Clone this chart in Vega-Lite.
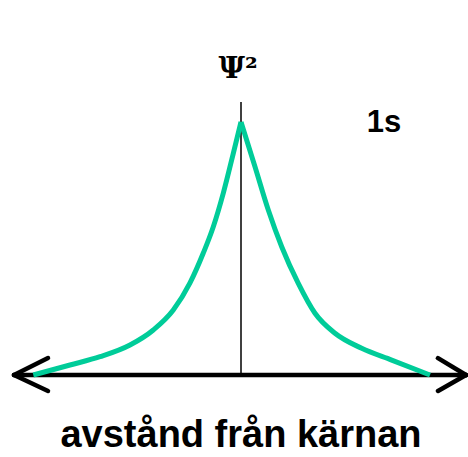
{
  "$schema": "https://vega.github.io/schema/vega-lite/v6.json",
  "width": 468,
  "height": 457,
  "autosize": {"type": "none"},
  "padding": 0,
  "background": "white",
  "config": {"view": {"stroke": null}},
  "datasets": {
    "curve": [
      {"side": "vänster", "r": -10.385, "p": 0},
      {"side": "vänster", "r": -8.55, "p": 0.0395},
      {"side": "vänster", "r": -7.05, "p": 0.0723},
      {"side": "vänster", "r": -5.55, "p": 0.1186},
      {"side": "vänster", "r": -4.385, "p": 0.178},
      {"side": "vänster", "r": -3.385, "p": 0.257},
      {"side": "vänster", "r": -2.55, "p": 0.364},
      {"side": "vänster", "r": -1.885, "p": 0.482},
      {"side": "vänster", "r": -1.385, "p": 0.586},
      {"side": "vänster", "r": -0.885, "p": 0.719},
      {"side": "vänster", "r": -0.385, "p": 0.876},
      {"side": "vänster", "r": 0, "p": 1.0},
      {"side": "höger", "r": 0, "p": 1.0},
      {"side": "höger", "r": 0.7, "p": 0.823},
      {"side": "höger", "r": 1.365, "p": 0.652},
      {"side": "höger", "r": 2.035, "p": 0.507},
      {"side": "höger", "r": 2.865, "p": 0.362},
      {"side": "höger", "r": 3.7, "p": 0.244},
      {"side": "höger", "r": 4.7, "p": 0.165},
      {"side": "höger", "r": 6.035, "p": 0.1055},
      {"side": "höger", "r": 7.535, "p": 0.059},
      {"side": "höger", "r": 9.45, "p": 0}
    ],
    "segments": [
      {"x1": -11.35, "y1": 0, "x2": 11.25, "y2": 0},
      {"x1": -11.35, "y1": 0, "x2": -9.65, "y2": 0.067},
      {"x1": -11.35, "y1": 0, "x2": -9.65, "y2": -0.063},
      {"x1": 11.25, "y1": 0, "x2": 9.85, "y2": 0.067},
      {"x1": 11.25, "y1": 0, "x2": 9.85, "y2": -0.063}
    ]
  },
  "layer": [
    {
      "data": {"values": [{"r": 0, "p0": 0, "p1": 1.079}]},
      "mark": {"type": "rule", "color": "black", "strokeWidth": 1.5},
      "encoding": {
        "x": {"field": "r", "type": "quantitative", "scale": {"domain": [-12.05, 11.35], "nice": false, "zero": false}, "axis": null},
        "y": {"field": "p0", "type": "quantitative", "scale": {"domain": [-0.324, 1.482], "nice": false, "zero": false}, "axis": null},
        "y2": {"field": "p1"}
      }
    },
    {
      "data": {"name": "segments"},
      "mark": {"type": "rule", "color": "black", "strokeWidth": 4.5, "strokeCap": "round"},
      "encoding": {
        "x": {"field": "x1", "type": "quantitative"},
        "x2": {"field": "x2"},
        "y": {"field": "y1", "type": "quantitative"},
        "y2": {"field": "y2"}
      }
    },
    {
      "data": {"name": "curve"},
      "mark": {"type": "line", "color": "#00CC99", "strokeWidth": 5, "interpolate": "monotone", "strokeJoin": "miter", "strokeCap": "butt"},
      "encoding": {
        "x": {"field": "r", "type": "quantitative"},
        "y": {"field": "p", "type": "quantitative"},
        "detail": {"field": "side", "type": "nominal"}
      }
    },
    {
      "data": {"values": [{"label": "Ψ²", "r": -0.15, "p": 1.174}]},
      "mark": {"type": "text", "font": "DejaVu Serif", "fontWeight": "bold", "fontSize": 29, "align": "center", "baseline": "alphabetic", "color": "black"},
      "encoding": {
        "x": {"field": "r", "type": "quantitative"},
        "y": {"field": "p", "type": "quantitative"},
        "text": {"field": "label"}
      }
    },
    {
      "data": {"values": [{"label": "1s", "r": 7.15, "p": 0.96}]},
      "mark": {"type": "text", "font": "Liberation Sans", "fontWeight": "bold", "fontSize": 31, "align": "center", "baseline": "alphabetic", "color": "black"},
      "encoding": {
        "x": {"field": "r", "type": "quantitative"},
        "y": {"field": "p", "type": "quantitative"},
        "text": {"field": "label"}
      }
    },
    {
      "data": {"values": [{"label": "avstånd från kärnan", "r": 0, "p": -0.285}]},
      "mark": {"type": "text", "font": "Liberation Sans", "fontWeight": "bold", "fontSize": 38, "align": "center", "baseline": "alphabetic", "color": "black"},
      "encoding": {
        "x": {"field": "r", "type": "quantitative"},
        "y": {"field": "p", "type": "quantitative"},
        "text": {"field": "label"}
      }
    }
  ]
}
